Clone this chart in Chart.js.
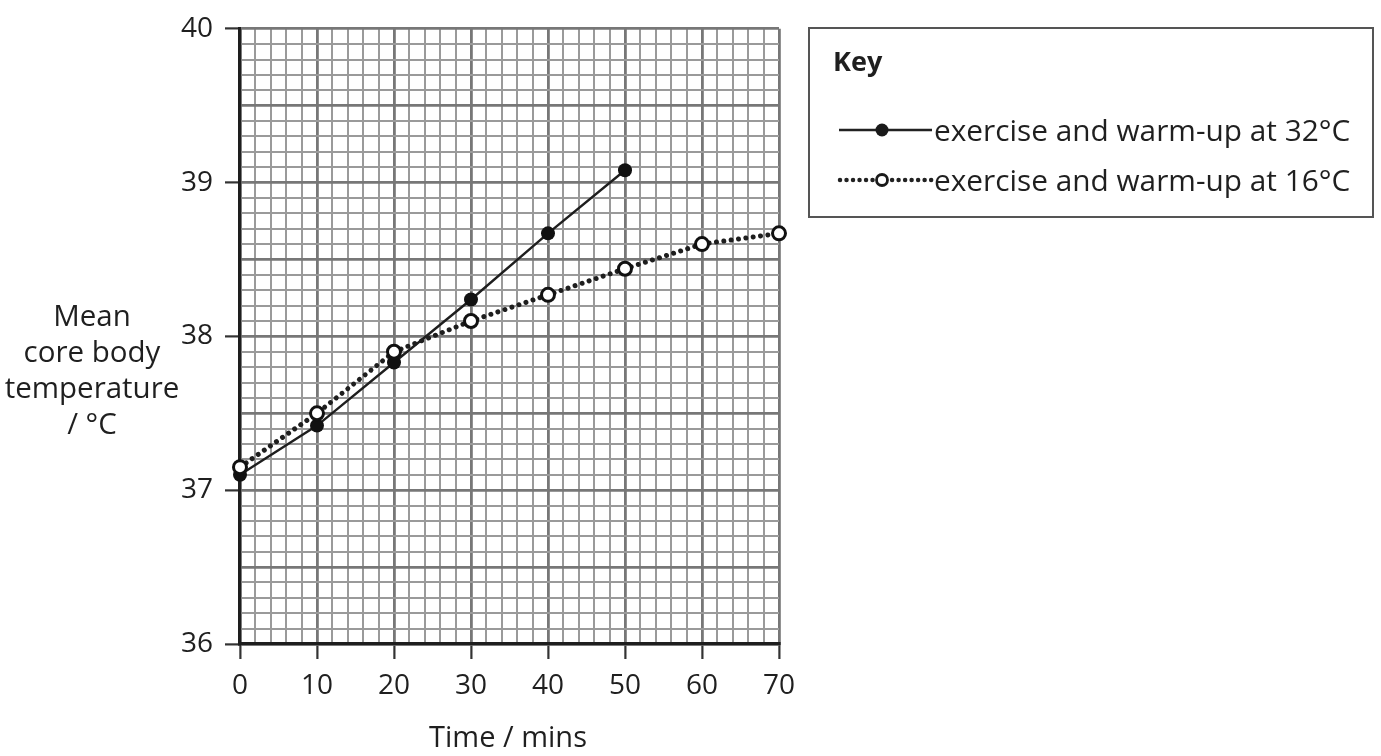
<!DOCTYPE html>
<html>
<head>
<meta charset="utf-8">
<script src="https://cdn.jsdelivr.net/npm/chart.js@4"></script>
<style>
  html, body { margin: 0; padding: 0; background: #fff; }
  #wrap { position: relative; width: 1381px; height: 756px; overflow: hidden; font-family: "Open Sans", sans-serif; color: #1f1f1f; }
  #chartBox { position: absolute; left: 0; top: 0; width: 1381px; height: 756px; }
  .ytitle { position: absolute; left: 0; width: 184px; top: 297px; text-align: center; font-size: 29.5px; line-height: 36px; }
  .xtitle { position: absolute; left: 358px; width: 300px; top: 718px; text-align: center; font-size: 29px; line-height: 36px; }
  #key { position: absolute; left: 808px; top: 27px; width: 562px; height: 187px; border: 2px solid #555; box-sizing: content-box; }
  #key .title { position: absolute; left: 23px; top: 14px; font-weight: bold; font-size: 27px; line-height: 36px; }
  #key .row { position: absolute; left: 27px; height: 36px; font-size: 29.8px; line-height: 36px; white-space: nowrap; }
  #key .row svg { position: absolute; left: 0; top: 0; }
  #key .row span { position: absolute; left: 97px; top: 0; }
</style>
</head>
<body>
<div id="wrap">
  <div id="chartBox"><canvas id="c"></canvas></div>
  <div class="ytitle">Mean<br>core body<br>temperature<br>/ °C</div>
  <div class="xtitle">Time / mins</div>
  <div id="key">
    <div class="title">Key</div>
    <div class="row" style="top:83px;">
      <svg width="98" height="36"><line x1="2" y1="18" x2="95" y2="18" stroke="#222" stroke-width="2.4"/><circle cx="45" cy="18" r="6.5" fill="#1a1a1a"/></svg>
      <span id="lab32"></span>
    </div>
    <div class="row" style="top:133px;">
      <svg width="98" height="36"><line x1="3" y1="18" x2="95" y2="18" stroke="#222" stroke-width="4.5" stroke-linecap="round" stroke-dasharray="0.01 6.5"/><circle cx="45" cy="18" r="5.5" fill="#fff" stroke="#1a1a1a" stroke-width="2.8"/></svg>
      <span id="lab16"></span>
    </div>
  </div>
</div>
<script>
// ---- data ----
const seriesNames = ['exercise and warm-up at 32°C', 'exercise and warm-up at 16°C'];
const time32 = [0, 10, 20, 30, 40, 50];
const temp32 = [37.10, 37.42, 37.83, 38.24, 38.67, 39.08];
const time16 = [0, 10, 20, 30, 40, 50, 60, 70];
const temp16 = [37.15, 37.50, 37.90, 38.10, 38.27, 38.44, 38.60, 38.67];
const xTickLabels = ['0', '10', '20', '30', '40', '50', '60', '70'];
const yTickLabels = ['36', '37', '38', '39', '40'];

document.getElementById('lab32').textContent = seriesNames[0];
document.getElementById('lab16').textContent = seriesNames[1];

const near = (a, b) => Math.abs(a - b) < 1e-6;
const xLabelFor = v => { const s = xTickLabels.find(t => near(+t, v)); return s === undefined ? '' : s; };
const yLabelFor = v => { const s = yTickLabels.find(t => near(+t, v)); return s === undefined ? '' : s; };
const isMajorX = v => near(v % 10, 0);
const isMajorY = v => near(Math.round(v * 2), v * 2);

const MINOR = '#9a9a9a', MAJOR = '#777', AXIS = '#1e1e1e', TEXT = '#1f1f1f';
const FONT = { family: '"Open Sans", sans-serif', size: 28 };

new Chart(document.getElementById('c'), {
  type: 'line',
  data: {
    datasets: [
      {
        label: seriesNames[1],
        data: time16.map((t, i) => ({ x: t, y: temp16[i] })),
        order: 0,
        borderColor: '#1e1e1e',
        borderWidth: 5,
        borderDash: [0.01, 7.4],
        borderCapStyle: 'round',
        pointRadius: 6.5,
        pointBackgroundColor: '#fff',
        pointBorderColor: '#111',
        pointBorderWidth: 3,
        tension: 0,
        clip: false
      },
      {
        label: seriesNames[0],
        data: time32.map((t, i) => ({ x: t, y: temp32[i] })),
        order: 1,
        borderColor: '#1e1e1e',
        borderWidth: 2.4,
        pointRadius: 7,
        pointBackgroundColor: '#111',
        pointBorderColor: '#111',
        pointBorderWidth: 0,
        tension: 0,
        clip: false
      }
    ]
  },
  options: {
    responsive: true,
    maintainAspectRatio: false,
    animation: false,
    events: [],
    layout: { padding: { left: 0, right: 602, top: 25, bottom: 0 } },
    plugins: { legend: { display: false }, tooltip: { enabled: false }, title: { display: false } },
    scales: {
      x: {
        type: 'linear',
        min: 0, max: 70,
        afterFit: s => { s.height = 112; },
        ticks: {
          stepSize: 2,
          autoSkip: false,
          maxRotation: 0,
          padding: 10,
          color: TEXT,
          font: FONT,
          callback: v => xLabelFor(v)
        },
        grid: {
          drawTicks: true,
          tickLength: 15,
          tickWidth: 2.2,
          tickColor: ctx => (ctx.tick && xLabelFor(ctx.tick.value) !== '') ? '#333' : 'rgba(0,0,0,0)',
          color: ctx => (ctx.tick && isMajorX(ctx.tick.value)) ? MAJOR : MINOR,
          lineWidth: ctx => (ctx.tick && isMajorX(ctx.tick.value)) ? 2.8 : 2
        },
        border: { display: true, color: AXIS, width: 3.2 }
      },
      y: {
        type: 'linear',
        min: 36, max: 40,
        afterFit: s => { s.width = 240; },
        ticks: {
          stepSize: 0.1,
          autoSkip: false,
          padding: 12,
          color: TEXT,
          font: FONT,
          callback: v => yLabelFor(v)
        },
        grid: {
          drawTicks: true,
          tickLength: 15,
          tickWidth: 2.2,
          tickColor: ctx => (ctx.tick && yLabelFor(ctx.tick.value) !== '') ? '#333' : 'rgba(0,0,0,0)',
          color: ctx => (ctx.tick && isMajorY(ctx.tick.value)) ? MAJOR : MINOR,
          lineWidth: ctx => (ctx.tick && isMajorY(ctx.tick.value)) ? 2.8 : 2
        },
        border: { display: true, color: AXIS, width: 3.2 }
      }
    }
  }
});
</script>
</body>
</html>
